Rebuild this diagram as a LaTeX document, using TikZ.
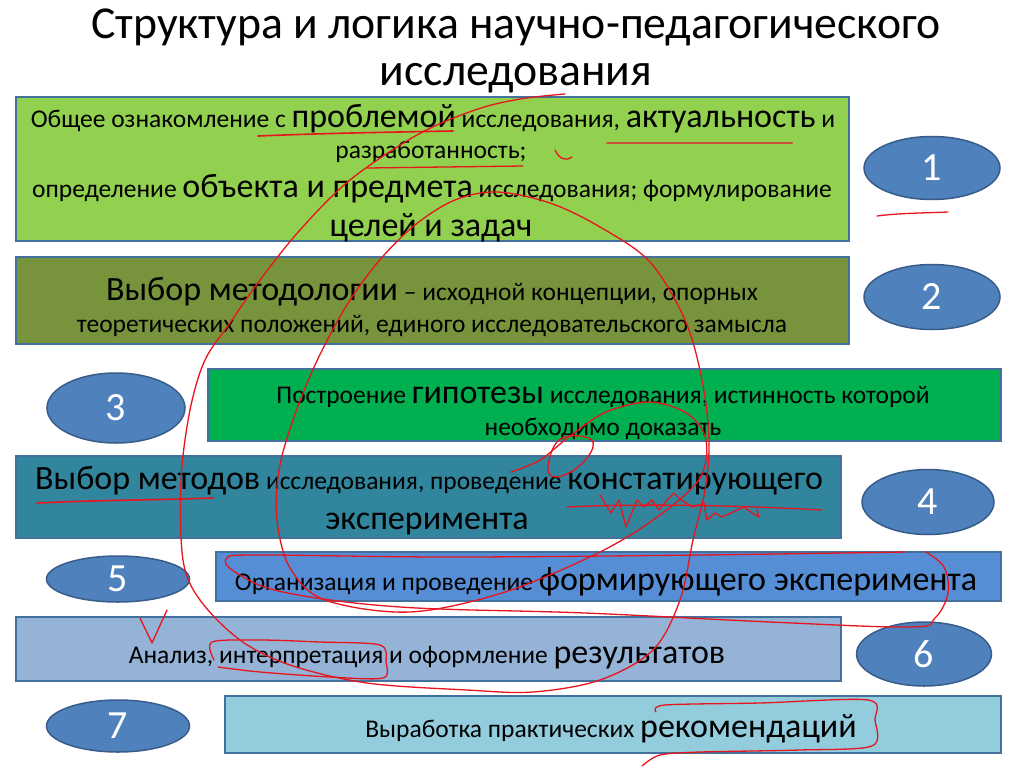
\documentclass[tikz,border=0pt]{standalone}
\usepackage{fontspec}
\setmainfont{Carlito}
\usetikzlibrary{shapes.geometric}
\definecolor{bordc}{HTML}{41719C}
\definecolor{cA}{HTML}{92D050}
\definecolor{cB}{HTML}{77933C}
\definecolor{cC}{HTML}{00B050}
\definecolor{cD}{HTML}{31859C}
\definecolor{cE}{HTML}{558ED5}
\definecolor{cF}{HTML}{95B3D7}
\definecolor{cG}{HTML}{93CDDD}
\definecolor{ellc}{HTML}{4F81BD}
\definecolor{elld}{HTML}{385D8A}
\definecolor{rcol}{HTML}{E8141E}
\definecolor{rbrown}{HTML}{C8503C}
\newcommand{\smtx}{\fontsize{25.5}{30}\selectfont}
\newcommand{\bgtx}{\fontsize{34}{38}\selectfont}
\tikzset{
  box/.style={draw=bordc, line width=2pt, inner sep=0pt, anchor=north west},
  num/.style={ellipse, fill=ellc, draw=elld, line width=1.5pt, text=white,
    font=\fontsize{40}{40}\selectfont, inner sep=0pt},
  txt/.style={anchor=base, inner sep=0pt, font=\smtx},
  scrib/.style={draw=rcol, line width=1.3pt, line cap=round, line join=round}
}
\begin{document}
\begin{tikzpicture}[x=1pt,y=-1pt]
\useasboundingbox (0,0) rectangle (1024,768);
\fill[white] (0,0) rectangle (1024,768);
% title
\node[anchor=base, inner sep=0pt, font=\fontsize{45.7}{50}\selectfont] (tt1) at (516,39) {Структура и логика научно-педагогического};
\node[anchor=base, inner sep=0pt, font=\fontsize{45.7}{50}\selectfont] (tt2) at (516,85) {исследования};
% boxes
\node[box, fill=cA, minimum width=833pt, minimum height=144pt] (b1) at (15,96) {};
\node[box, fill=cB, minimum width=833pt, minimum height=87pt] (b2) at (15,256) {};
\node[box, fill=cC, minimum width=793pt, minimum height=72pt] (b3) at (207,368) {};
\node[box, fill=cD, minimum width=825pt, minimum height=82pt] (b4) at (15,455) {};
\node[box, fill=cE, minimum width=785pt, minimum height=49pt] (b5) at (215,551) {};
\node[box, fill=cF, minimum width=825pt, minimum height=64pt] (b6) at (15,616) {};
\node[box, fill=cG, minimum width=776pt, minimum height=57pt] (b7) at (224,695) {};
% ellipses
\node[num, minimum width=136pt, minimum height=63pt] (e1) at (932,168) {1};
\node[num, minimum width=136pt, minimum height=65pt] (e2) at (932,297) {2};
\node[num, minimum width=138pt, minimum height=70pt] (e3) at (116,408) {3};
\node[num, minimum width=132pt, minimum height=65pt] (e4) at (928,502) {4};
\node[num, minimum width=143pt, minimum height=46pt] (e5) at (118,579) {5};
\node[num, minimum width=135pt, minimum height=64pt] (e6) at (924,654) {6};
\node[num, minimum width=143pt, minimum height=52pt] (e7) at (118,726) {7};
% texts
\node[txt] (t1a) at (433,127) {Общее ознакомление с {\bgtx проблемой} исследования, {\bgtx актуальность} и};
\node[txt] (t1b) at (431,158) {разработанность;};
\node[txt] (t1c) at (432,197) {определение {\bgtx объекта и предмета} исследования; формулирование};
\node[txt] (t1d) at (431,236) {\bgtx целей и задач};
\node[txt] (t2a) at (432,300) {{\bgtx Выбор методологии} – исходной концепции, опорных};
\node[txt] (t2b) at (432,332) {теоретических положений, единого исследовательского замысла};
\node[txt] (t3a) at (603,403) {Построение {\bgtx гипотезы} исследования, истинность которой};
\node[txt] (t3b) at (603,435) {необходимо доказать};
\node[txt] (t4a) at (429,489) {{\bgtx Выбор методов} исследования, проведение {\bgtx констатирующего}};
\node[txt] (t4b) at (427,529) {\bgtx эксперимента};
\node[txt] (t5) at (606,590) {Организация и проведение {\bgtx формирующего эксперимента}};
\node[txt] (t6) at (427,663) {Анализ, интерпретация  и оформление {\bgtx результатов}};
\node[txt] (t7) at (611,737) {Выработка практических {\bgtx рекомендаций}};
% red annotations
\draw[scrib] plot[smooth, tension=0.55] coordinates {(565,94) (520,99) (475,110) (417,135) (350,180) (300,230) (260,280) (230,323) (205,360) (190,410) (181,480) (183,560) (200,600) (240,640) (290,665) (367,683) (467,690) (533,692) (600,680) (653,650) (680,600) (693,540) (705,490) (709,440) (702,380) (685,320) (650,262) (600,227) (550,203) (497,192) (455,200) (415,225) (378,262) (345,308) (315,365) (293,420) (279,470) (277,520) (290,568) (325,600) (410,612) (505,592) (600,552) (660,515) (700,478) (706,440) (688,414) (650,402) (606,412) (570,436) (540,460) (511,472)};
\draw[scrib] plot[smooth cycle, tension=0.7] coordinates {(548,467) (559,440) (585,437) (593,447) (578,467) (556,477)};
\draw[scrib, line width=1.6pt] (258,136) .. controls (330,133) and (400,132) .. (453,131);
\draw[scrib] (367,168) -- (523,166);
\draw[scrib] (555,150) .. controls (560,160) and (566,161) .. (572,157);
\draw[draw=rbrown, line width=2pt, line cap=round] (607,143) -- (792,143);
\draw[scrib] (877,216) .. controls (900,213) and (925,213) .. (948,212);
\draw[scrib, line width=1.6pt] (37,503) .. controls (100,500) and (160,500) .. (213,498);
\draw[scrib] (567,507) .. controls (650,503) and (750,506) .. (822,510);
\draw[scrib] (600,495) -- (611,513) -- (619,500) -- (626,527) -- (637,500) -- (644,507) -- (652,500) -- (659,510) -- (667,500) -- (674,493) -- (681,500) -- (693,507) -- (704,503) -- (707,520) -- (715,513) -- (722,517) -- (733,512) -- (744,507) -- (752,513) -- (759,517) -- (757,510);
\draw[scrib] plot[smooth, tension=0.6] coordinates {(905,552) (700,555) (450,557) (260,555) (227,558) (235,572) (283,592) (400,607) (585,613) (770,622) (911,627) (935,618) (948,593) (944,567) (926,552)};
\draw[scrib] (140,618) -- (152,643) -- (167,610);
\draw[scrib] plot[smooth, tension=0.5] coordinates {(214,660) (212,642) (260,640) (320,642) (380,645) (386,662) (383,678) (330,677) (260,672) (218,667)};
\draw[scrib] plot[smooth, tension=0.5] coordinates {(656,712) (665,705) (760,703) (868,700) (875,720) (872,746) (800,750) (700,752) (660,755) (642,766)};
\end{tikzpicture}
\end{document}
